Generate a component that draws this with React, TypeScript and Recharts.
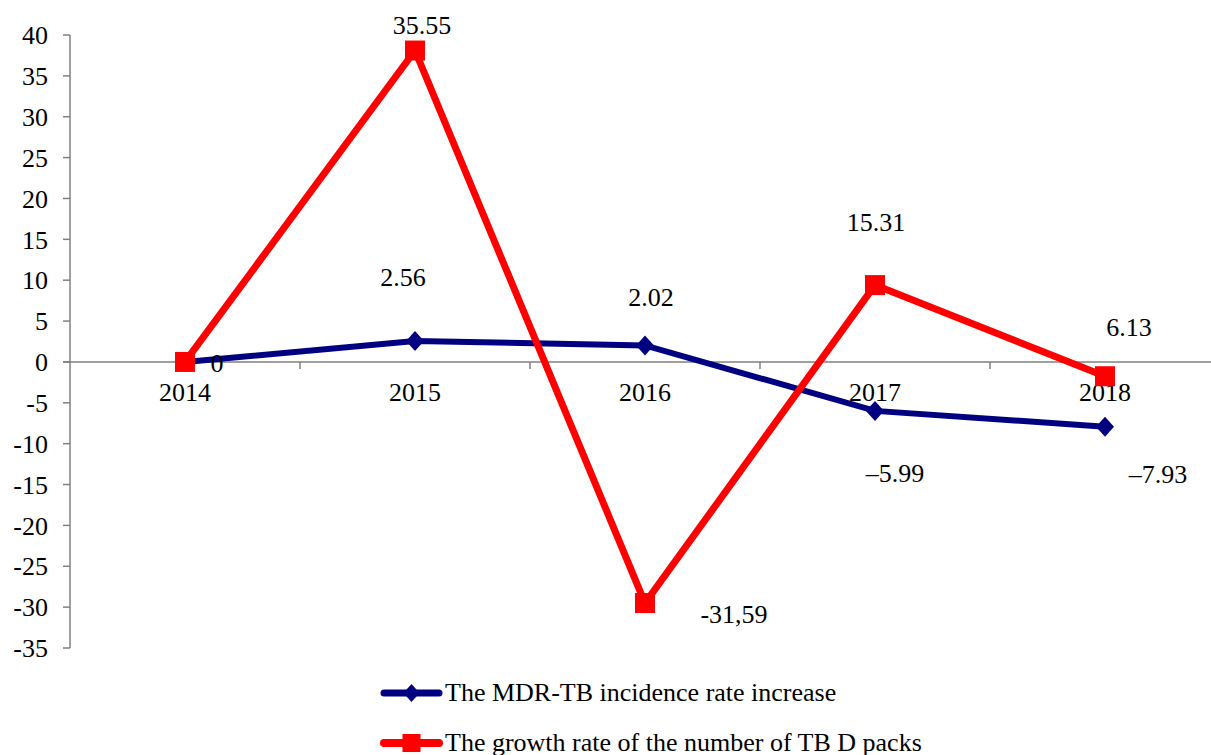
import { LineChart, Line, XAxis, YAxis, ReferenceLine, Legend, LabelList } from 'recharts';

const years = ['2014', '2015', '2016', '2017', '2018'];
const mdrIncrease = [0, 2.56, 2.02, -5.99, -7.93];
const packsGrowth = [0, 38.1, -29.5, 9.4, -1.75];
const mdrLabels = ['0', '2.56', '2.02', '–5.99', '–7.93'];
const packsLabels = ['', '35.55', '-31,59', '15.31', '6.13'];
const yTicks = [-35, -30, -25, -20, -15, -10, -5, 0, 5, 10, 15, 20, 25, 30, 35, 40];

const MDR_NAME = 'The MDR-TB incidence rate increase';
const PACKS_NAME = 'The growth rate of the number of TB D packs';

const FONT = '"Liberation Serif", "Times New Roman", serif';
const NAVY = '#000080';
const RED = '#FF0000';
const AXIS = '#808080';

// where each value label sits relative to its point (px)
const mdrLabelOffsets = [[32, 2], [-12, -64], [6, -48], [20, 63], [53, 48]];
const packsLabelOffsets = [[0, 0], [7, -25], [89, 11], [1, -63], [24, -49]];

const data = years.map((year, i) => ({ year, mdr: mdrIncrease[i], packs: packsGrowth[i] }));

const Diamond = (props: any) => {
  const { cx, cy, size = 10 } = props;
  if (cx == null || cy == null) return null;
  const w = size * 0.9;
  return (
    <polygon
      points={`${cx},${cy - size} ${cx + w},${cy} ${cx},${cy + size} ${cx - w},${cy}`}
      fill={NAVY}
    />
  );
};

const Square = (props: any) => {
  const { cx, cy, size = 10 } = props;
  if (cx == null || cy == null) return null;
  return <rect x={cx - size} y={cy - size} width={size * 2} height={size * 2} fill={RED} />;
};

const makeLabel = (texts: string[], offsets: number[][]) => (props: any) => {
  const { index } = props;
  const x = props.x ?? props.viewBox?.x ?? 0;
  const y = props.y ?? props.viewBox?.y ?? 0;
  const text = texts[index];
  if (!text) return null;
  const [dx, dy] = offsets[index];
  return (
    <text
      key={`lbl-${index}`}
      x={x + dx}
      y={y + dy}
      textAnchor="middle"
      dominantBaseline="central"
      fontFamily={FONT}
      fontSize={26}
      fill="#000"
    >
      {text}
    </text>
  );
};

// horizontal axis drawn along y = 0, with ticks between categories
const ZeroAxis = (props: any) => {
  const { x1, y1, x2 } = props;
  const band = (x2 - x1) / years.length;
  return (
    <g>
      <line x1={x1 - 7} y1={y1} x2={x2} y2={y1} stroke={AXIS} strokeWidth={1.5} />
      {years.map((year, i) => (
        <g key={year}>
          {i > 0 && (
            <line x1={x1 + i * band} y1={y1} x2={x1 + i * band} y2={y1 + 7} stroke={AXIS} strokeWidth={1.5} />
          )}
          <text
            x={x1 + (i + 0.5) * band}
            y={y1 + 31}
            textAnchor="middle"
            dominantBaseline="central"
            fontFamily={FONT}
            fontSize={26}
            fill="#000"
          >
            {year}
          </text>
        </g>
      ))}
    </g>
  );
};

const renderLegend = () => {
  const items = [
    { name: MDR_NAME, color: NAVY, width: 7, marker: 'diamond' },
    { name: PACKS_NAME, color: RED, width: 8, marker: 'square' },
  ];
  return (
    <div style={{ fontFamily: FONT, fontSize: 26, color: '#000' }}>
      {items.map((item) => (
        <div key={item.name} style={{ display: 'flex', alignItems: 'center', height: 50, whiteSpace: 'nowrap' }}>
          <svg width={63} height={24} style={{ display: 'block' }}>
            <line x1={4} y1={12} x2={59} y2={12} stroke={item.color} strokeWidth={item.width} strokeLinecap="round" />
            {item.marker === 'diamond' ? <Diamond cx={31.5} cy={12} size={9} /> : <Square cx={31.5} cy={12} size={9} />}
          </svg>
          <span style={{ marginLeft: 2, lineHeight: '50px' }}>{item.name}</span>
        </div>
      ))}
    </div>
  );
};

export default function App() {
  return (
    <div style={{ position: 'fixed', left: 0, top: 0, width: 1211, height: 755, overflow: 'hidden', background: '#fff' }}>
      <LineChart width={1220} height={755} data={data} margin={{ top: 35, right: 0, bottom: 107, left: 0 }}>
        <XAxis dataKey="year" hide padding={{ left: 115, right: 115 }} />
        <YAxis
          domain={[-35, 40]}
          ticks={yTicks}
          interval={0}
          width={70}
          tickSize={7}
          tickMargin={15}
          axisLine={{ stroke: AXIS, strokeWidth: 1.5 }}
          tickLine={{ stroke: AXIS, strokeWidth: 1.5 }}
          tick={{ fill: '#000', fontSize: 26, fontFamily: FONT }}
        />
        <ReferenceLine y={0} shape={ZeroAxis} />
        <Legend
          layout="vertical"
          align="center"
          verticalAlign="middle"
          wrapperStyle={{ top: 668, left: 380 }}
          content={renderLegend}
        />
        <Line
          type="linear"
          dataKey="mdr"
          name={MDR_NAME}
          stroke={NAVY}
          strokeWidth={6}
          dot={(p: any) => <Diamond key={`d-${p.index}`} cx={p.cx} cy={p.cy} size={10} />}
          activeDot={false}
          isAnimationActive={false}
        >
          <LabelList content={makeLabel(mdrLabels, mdrLabelOffsets)} />
        </Line>
        <Line
          type="linear"
          dataKey="packs"
          name={PACKS_NAME}
          stroke={RED}
          strokeWidth={7}
          dot={(p: any) => <Square key={`s-${p.index}`} cx={p.cx} cy={p.cy} size={10} />}
          activeDot={false}
          isAnimationActive={false}
        >
          <LabelList content={makeLabel(packsLabels, packsLabelOffsets)} />
        </Line>
      </LineChart>
    </div>
  );
}
